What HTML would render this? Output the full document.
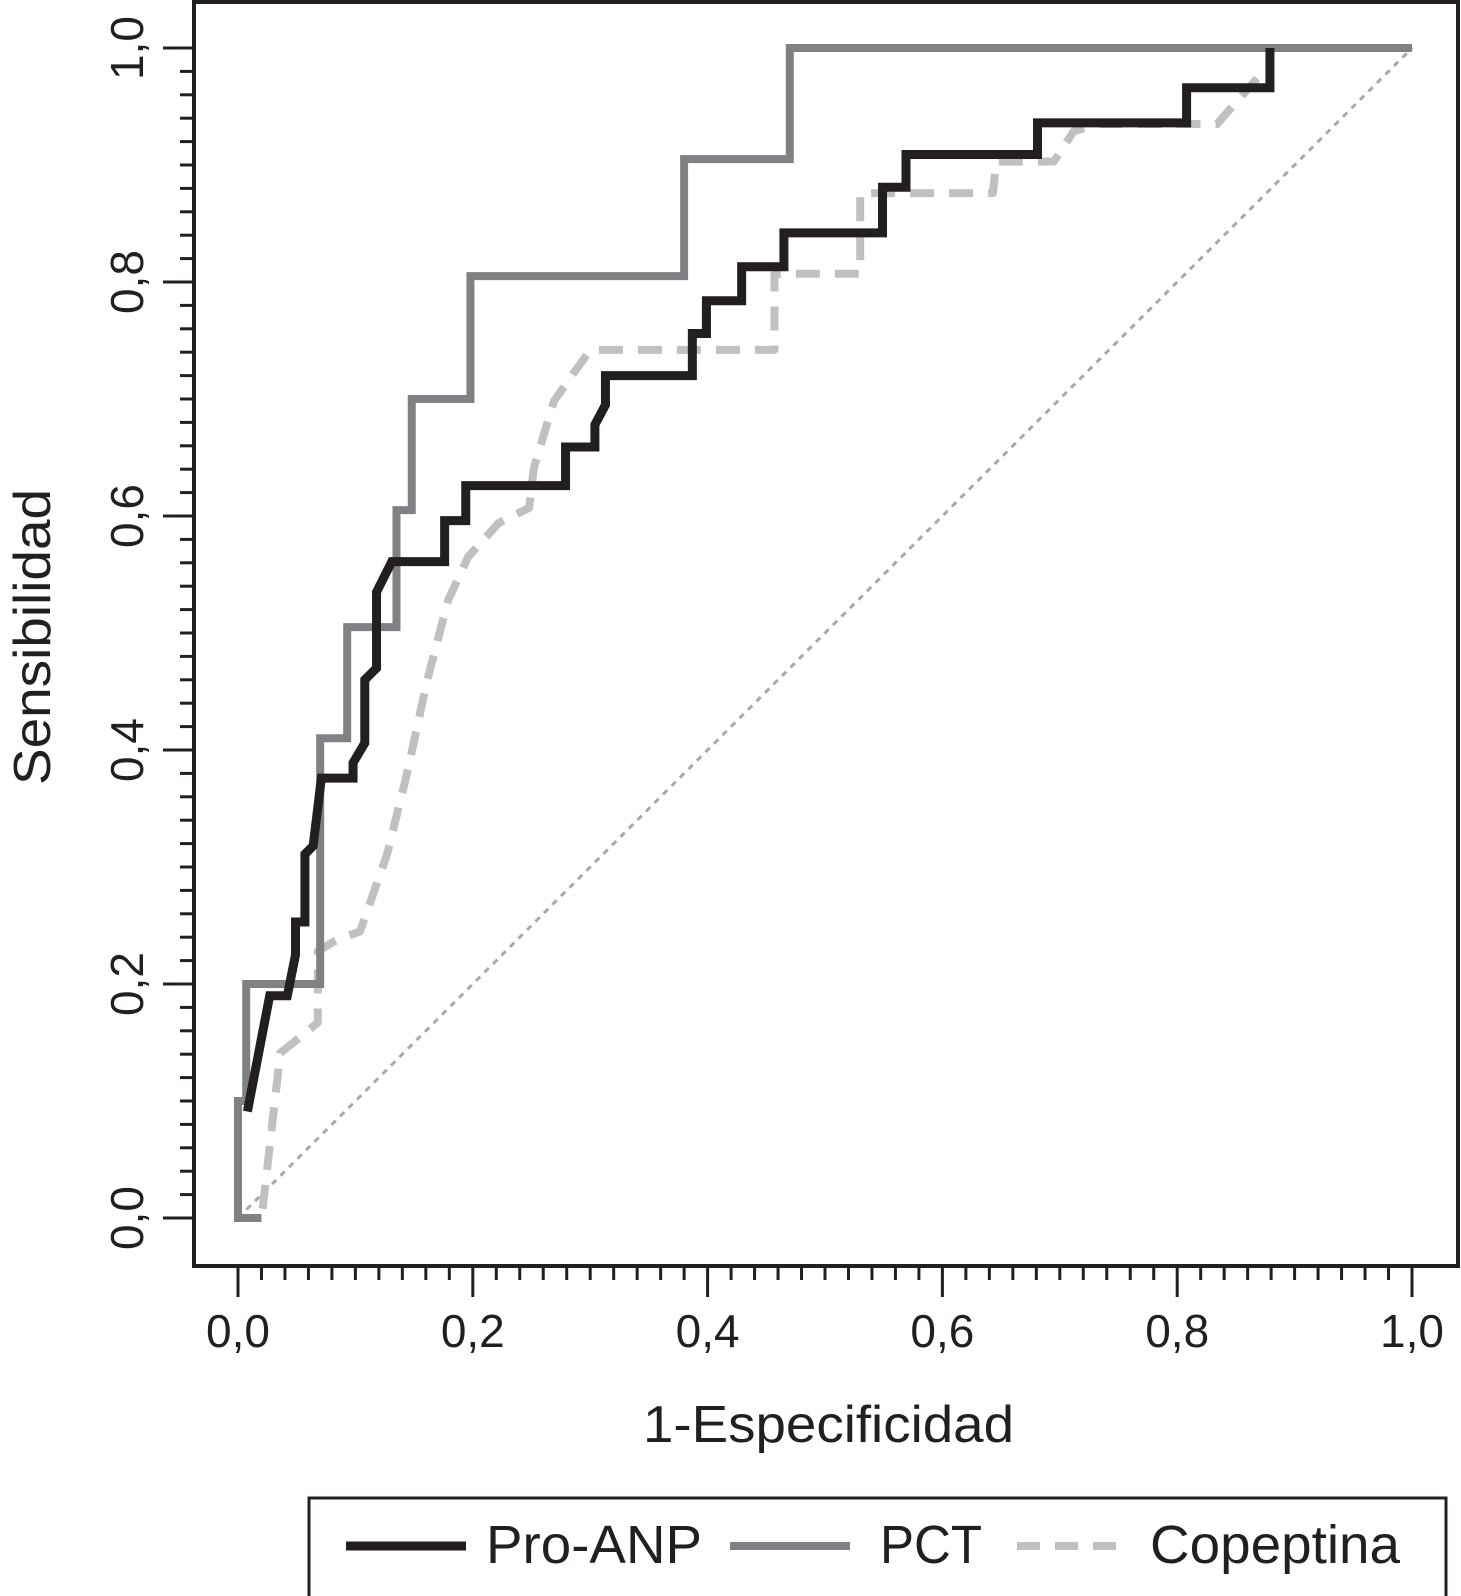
<!DOCTYPE html>
<html><head><meta charset="utf-8"><style>
html,body{margin:0;padding:0;background:#fff;width:1461px;height:1596px;overflow:hidden}
svg{display:block;font-family:"Liberation Sans",Arial,sans-serif}
</style></head><body>
<svg id="chart" width="1461" height="1596" viewBox="0 0 1461 1596" xmlns="http://www.w3.org/2000/svg">
<rect x="194" y="2" width="1264" height="1264" fill="none" stroke="#231f20" stroke-width="4"/>
<g id="axes"></g>
<g id="series"></g>
<text x="643" y="1442" font-size="52" fill="#231f20" textLength="371" lengthAdjust="spacingAndGlyphs">1-Especificidad</text>
<text transform="translate(50,637) rotate(-90)" font-size="52" text-anchor="middle" fill="#231f20" textLength="296" lengthAdjust="spacingAndGlyphs">Sensibilidad</text>
<g>
<rect x="309" y="1498" width="1137" height="110" fill="#fff" stroke="#231f20" stroke-width="3"/>
<line x1="346" y1="1546" x2="466" y2="1546" stroke="#231f20" stroke-width="9"/>
<text x="486" y="1563" font-size="54" fill="#231f20" textLength="216" lengthAdjust="spacingAndGlyphs">Pro-ANP</text>
<line x1="730" y1="1546" x2="850" y2="1546" stroke="#808184" stroke-width="8"/>
<text x="880" y="1563" font-size="54" fill="#231f20" textLength="102" lengthAdjust="spacingAndGlyphs">PCT</text>
<line x1="1017" y1="1546" x2="1128" y2="1546" stroke="#c0c0c0" stroke-width="8" stroke-dasharray="23,15"/>
<text x="1150" y="1563" font-size="54" fill="#231f20" textLength="250" lengthAdjust="spacingAndGlyphs">Copeptina</text>
</g>
</svg>
<script>
const xTicks = [0, 0.2, 0.4, 0.6, 0.8, 1.0];
const xTickLabels = ["0,0", "0,2", "0,4", "0,6", "0,8", "1,0"];
const yTicks = [0, 0.2, 0.4, 0.6, 0.8, 1.0];
const yTickLabels = ["0,0", "0,2", "0,4", "0,6", "0,8", "1,0"];
const proAnpX = [0.008,0.027,0.042,0.049,0.049,0.057,0.057,0.064,0.071,0.098,0.098,0.108,0.108,0.118,0.118,0.131,0.176,0.176,0.194,0.194,0.279,0.279,0.304,0.304,0.313,0.313,0.387,0.387,0.399,0.399,0.429,0.429,0.465,0.465,0.549,0.549,0.569,0.569,0.681,0.681,0.808,0.808,0.879,0.879];
const proAnpY = [0.091,0.19,0.19,0.225,0.253,0.253,0.311,0.318,0.376,0.376,0.389,0.406,0.46,0.47,0.535,0.561,0.561,0.596,0.596,0.626,0.626,0.659,0.659,0.678,0.695,0.72,0.72,0.756,0.756,0.784,0.784,0.813,0.813,0.842,0.842,0.881,0.881,0.909,0.909,0.936,0.936,0.966,0.966,1.0];
const pctX = [0.02,0,0,0.007,0.007,0.07,0.07,0.093,0.093,0.135,0.135,0.148,0.148,0.198,0.198,0.38,0.38,0.47,0.47,1.0];
const pctY = [0,0,0.1,0.1,0.2,0.2,0.41,0.41,0.505,0.505,0.605,0.605,0.70,0.70,0.805,0.805,0.905,0.905,1.0,1.0];
const copX = [0.021,0.036,0.057,0.068,0.068,0.083,0.104,0.127,0.144,0.161,0.179,0.196,0.222,0.248,0.252,0.269,0.3,0.457,0.457,0.53,0.53,0.643,0.646,0.695,0.712,0.734,0.834,0.847,0.868];
const copY = [0.008,0.141,0.158,0.167,0.228,0.237,0.245,0.311,0.38,0.459,0.528,0.565,0.594,0.607,0.641,0.698,0.742,0.742,0.807,0.807,0.876,0.876,0.903,0.903,0.929,0.935,0.935,0.95,0.974];
const refX = [0, 1];
const refY = [0, 1];

const NS = "http://www.w3.org/2000/svg";
const sx = v => 238 + v * 1174;
const sy = v => 1218 - v * 1170;
const axes = document.getElementById("axes");
const series = document.getElementById("series");
function mk(tag, attrs, parent) {
  const e = document.createElementNS(NS, tag);
  for (const k in attrs) e.setAttribute(k, attrs[k]);
  parent.appendChild(e);
  return e;
}
for (let i = 0; i <= 50; i++) {
  const v = i * 0.02;
  const major = i % 10 === 0;
  const tx = mk("line", {x1: sx(v), x2: sx(v), y1: 1266, y2: major ? 1297 : 1280, stroke: "#231f20", "stroke-width": 3}, axes);
  
  
  const ty = mk("line", {x1: 194, x2: major ? 163 : 180, y1: sy(v), y2: sy(v), stroke: "#231f20", "stroke-width": 3}, axes);
  
  
}
xTicks.forEach((v, i) => {
  const t = mk("text", {x: sx(v), y: 1347, "font-size": 46, "text-anchor": "middle", fill: "#231f20"}, axes);
  t.textContent = xTickLabels[i];
  
  
});
yTicks.forEach((v, i) => {
  const t = mk("text", {transform: `translate(143,${sy(v)}) rotate(-90)`, "font-size": 46, "text-anchor": "middle", fill: "#231f20"}, axes);
  t.textContent = yTickLabels[i];
  
  
});
function poly(xs, ys, style) {
  const pts = xs.map((x, i) => sx(x) + "," + sy(ys[i])).join(" ");
  return mk("polyline", Object.assign({points: pts, fill: "none"}, style), series);
}
const ref = poly(refX, refY, {stroke: "#a7a9ac", "stroke-width": 3, "stroke-dasharray": "6,6"});


const cop = poly(copX, copY, {stroke: "#c0c0c0", "stroke-width": 8, "stroke-dasharray": "24,15", "stroke-linejoin": "round"});


const pct = poly(pctX, pctY, {stroke: "#808184", "stroke-width": 8, "stroke-linejoin": "miter"});


const pro = poly(proAnpX, proAnpY, {stroke: "#231f20", "stroke-width": 9, "stroke-linejoin": "miter"});


</script>
</body></html>
